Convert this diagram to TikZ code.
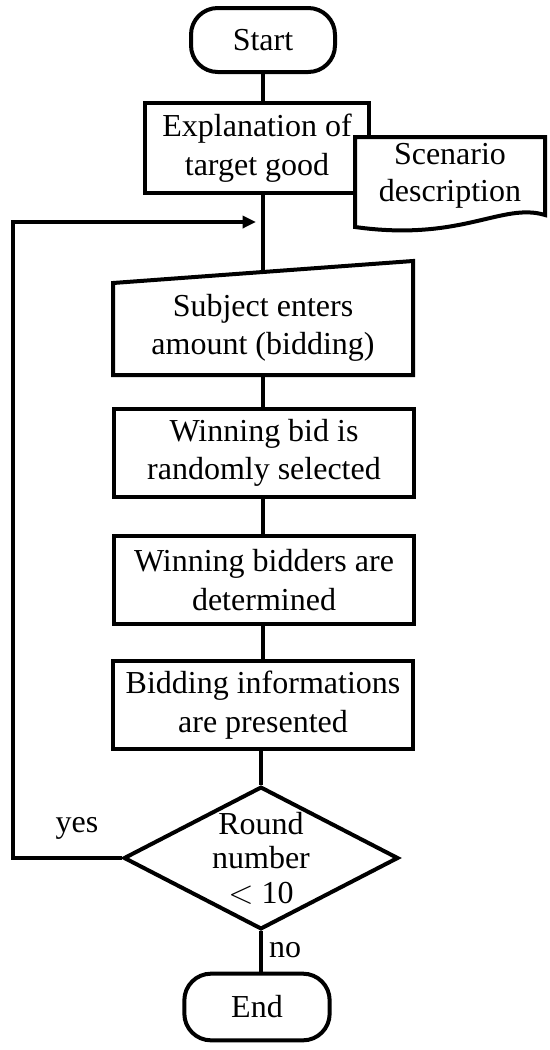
\documentclass[tikz,border=0pt]{standalone}
\usepackage{fontspec}
\setmainfont{Liberation Serif}
\usepackage{tikz}
\usetikzlibrary{shapes.geometric,arrows.meta,calc}

\begin{document}
\begin{tikzpicture}[
  x=0.75pt, y=-0.75pt,
  font=\fontsize{24}{29}\selectfont,
  line width=3pt,
  term/.style={rectangle, rounded corners=20pt, draw, minimum width=108pt,
               minimum height=48pt, inner sep=0pt},
  proc/.style={rectangle, draw, align=center, minimum width=225pt,
               minimum height=66pt, inner sep=2pt},
  io/.style={rectangle, align=center, minimum width=222pt,
             minimum height=67.5pt, inner sep=0pt},
  doc/.style={rectangle, fill=white, align=center, minimum width=139.5pt,
              minimum height=55.5pt, inner sep=0pt,
              font=\fontsize{24}{28}\selectfont},
  dec/.style={diamond, draw, minimum width=206pt, minimum height=107pt,
              inner sep=0pt},
  dectext/.style={align=center, font=\fontsize{24}{26}\selectfont},
  lab/.style={inner sep=1pt},
  arr/.style={-{Triangle[length=10pt, width=9pt]}}]

\useasboundingbox (0,0) rectangle (550,1050);

\node[term] (start) at (263,40) {Start};
\node[proc, minimum width=168pt, minimum height=67.5pt] (expl) at (257,148)
  {Explanation of\\target good};
\node[io] (input) at (263,328) {Subject enters\\amount (bidding)};
\node[proc] (pick) at (264,453) {Winning bid is\\randomly selected};
\node[proc] (winners) at (264,580) {Winning bidders are\\determined};
\node[proc] (info) at (263,705) {Bidding informations\\are presented};
\node[dec, label={[dectext]center:Round\\number\\$<$ 10}] (round) at (261,858) {};
\node[term, minimum width=109pt, minimum height=50pt] (stop) at (257,1007) {End};

% scenario document, on top of the explanation box
\node[doc] (scen) at (450,176) {Scenario\\description};
\draw (scen.south west) -- (scen.north west) -- (scen.north east) -- (scen.south east)
  .. controls ($(scen.south east)+(-43,-13)$) and ($(scen.south east)+(-83,27)$)
  .. ($(scen.south west)+(0,12)$) -- cycle;

% manual input outline
\coordinate (inTL) at ($(input.north west)+(0,2)$);
\coordinate (inTR) at ($(input.north east)+(0,-20)$);
\coordinate (inTop) at ($(inTL)!0.5!(inTR)$);
\draw (input.south west) -- (input.south east) -- (inTR) -- (inTL) -- cycle;

\coordinate (loopin) at (256,222);

\draw (start.south) -- (start.south |- expl.north);
\draw (expl.south -| start) -- (inTop);
\draw (input.south -| start) -- (pick.north -| start);
\draw (pick.south -| start) -- (winners.north -| start);
\draw (winners.south -| start) -- (info.north -| start);
\draw (info.south -| round) -- (round.north);
\draw (round.south) -- (round.south |- stop.north);
\draw[arr] (round.west) -- ++(-109,0) |- (loopin);

\node[lab] (yes) at (77,828) {yes};
\node[lab] (no) at (285,950) {no};
\end{tikzpicture}
\end{document}
